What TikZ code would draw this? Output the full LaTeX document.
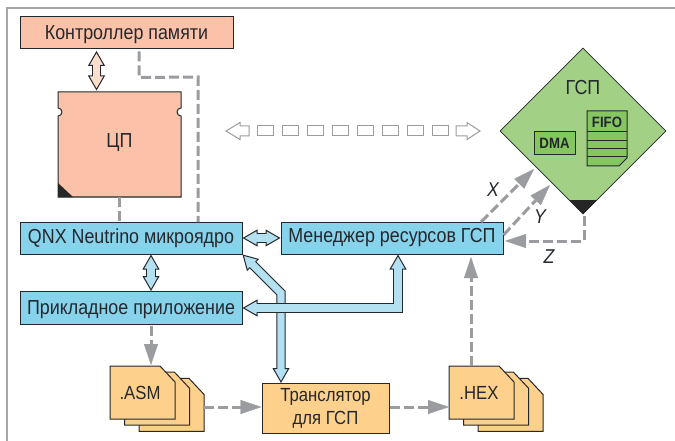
\documentclass[tikz,border=0pt]{standalone}
\usepackage{fontspec}
\setmainfont[FakeStretch=0.88]{Liberation Sans}
\usetikzlibrary{arrows.meta,calc,shapes.geometric}

\definecolor{linecolor}{RGB}{35,40,45}
\definecolor{greycolor}{RGB}{154,156,160}
\definecolor{cpucolor}{RGB}{251,194,169}
\definecolor{cpulight}{RGB}{253,222,205}
\definecolor{bluecolor}{RGB}{135,211,236}
\definecolor{fatcolor}{RGB}{179,225,242}
\definecolor{filecolor}{RGB}{253,208,140}
\definecolor{gpucolor}{RGB}{162,208,132}
\definecolor{innercolor}{RGB}{134,198,97}

\tikzset{
  box/.style={draw=linecolor,line width=1pt,inner sep=0pt,font=\fontsize{20.3}{23}\selectfont,text=linecolor,align=center},
  bluebox/.style={box,fill=bluecolor,minimum width=222,minimum height=32},
  inbox/.style={draw=linecolor,line width=1pt,fill=innercolor},
  filepage/.style={draw=linecolor,line width=1pt,fill=filecolor},
  greyline/.style={draw=greycolor,line width=3pt,dash pattern=on 10pt off 4pt},
  greyarrow/.style={greyline,-{Triangle[length=21pt,width=14pt,line width=0.4pt,fill=greycolor,color=greycolor]}},
  fatline/.style={draw=linecolor,line width=9.2pt,
    {Triangle[length=15pt,width=17pt,line width=1pt,fill=#1]}-{Triangle[length=15pt,width=17pt,line width=1pt,fill=#1]},
    postaction={draw=#1,line width=7.4pt,arrows=-,shorten >=13pt,shorten <=13pt}},
  hollow/.style={draw=greycolor,line width=1pt,fill=white},
  plainlabel/.style={font=\fontsize{20.3}{23}\selectfont,text=linecolor,inner sep=0pt},
  chiplabel/.style={font=\fontsize{15}{17}\bfseries\selectfont,text=linecolor,inner sep=0pt},
  axislabel/.style={font=\fontsize{20}{23}\selectfont\itshape,text=linecolor,inner sep=0pt}
}
\newcommand{\filestack}[2]{% left edge, name
  \foreach \o in {2,1,0} {
    \draw[filepage,shift={(#1+14.5*\o,366+6.2*\o)}]
      (0,0) -- (50,0) -- (65,16) -- (65,53) -- (0,53) -- cycle;
  }
  \coordinate (#2left) at (#1,407);
  \coordinate (#2right) at (#1+94,407);
}

\begin{document}
\begin{tikzpicture}[x=1pt,y=-1pt]
  \useasboundingbox (0,0) rectangle (675,441);

  % Frame
  \draw[gray!70,line width=1.4pt] (7,441) -- (7,8) -- (675,8);

  % Memory controller and CPU
  \node[box,fill=cpucolor,minimum width=213,minimum height=32,text depth=0pt] (mem) at (126.5,33) {Контроллер памяти};
  \draw[draw=linecolor,line width=1pt,fill=cpucolor]
    (58,92) -- (181,92) -- (181,108) arc (-90:-270:4) -- (181,197) -- (58,197) -- (58,116) arc (90:-90:4) -- cycle;
  \node[plainlabel] (cpu) at (119.5,143) {ЦП};
  \fill[black!85] (58,183) -- (73,197) -- (58,197) -- cycle;
  \coordinate (cpubottom) at (119.5,197);
  \coordinate (cputop) at (96.5,92);

  % Blue boxes
  \node[bluebox] (qnx) at (131,238) {QNX Neutrino микроядро};
  \node[bluebox,minimum height=33,text depth=0pt] (app) at (131,308) {Прикладное приложение};
  \node[bluebox] (mgr) at (392,238) {Менеджер ресурсов ГСП};

  % Files and translator
  \filestack{110}{asm}
  \node[plainlabel,font=\fontsize{19}{23}\selectfont] (asmlabel) at (140,393) {.ASM};
  \filestack{449}{hex}
  \node[plainlabel,font=\fontsize{19}{23}\selectfont] (hexlabel) at (479,393) {.HEX};
  \node[box,fill=filecolor,minimum width=127,minimum height=50,font=\fontsize{19}{23}\selectfont] (trans) at (325.5,408) {Транслятор\\для ГСП};

  % GPU
  \node[diamond,draw=linecolor,line width=0.6pt,fill=gpucolor,minimum width=166,minimum height=166,inner sep=0pt] (gpu) at (583,131) {};
  \fill[black!85] (583,214) -- (569,200) -- (597,200) -- cycle;
  \node[plainlabel] (gsp) at (583,88) {ГСП};
  \node[inbox,chiplabel,minimum width=41,minimum height=23] (dma) at (554.5,143.5) {DMA};
  \draw[inbox] (587,111) -- (627,111) -- (627,158) -- (619,166) -- (587,166) -- cycle;
  \foreach \y in {132,141,149,157} {
    \draw[draw=linecolor,line width=1pt] (587,\y) -- (627,\y);
  }
  \node[chiplabel] (fifo) at (607,122) {FIFO};

  % Grey connections
  \draw[greyline] ([xshift=12.5]mem.south) ++(0,2) -- ++(0,26) -- (198,77) -- (198,222);
  \draw[greyline] (cpubottom) -- (cpubottom |- qnx.north);
  \draw[greyarrow] (app.south -| 151,0) ++(0,1) -- (151,365);
  \draw[greyarrow] (asmright) -- (asmright -| trans.west);
  \draw[greyarrow] (hexleft -| trans.east) -- (hexleft);
  \draw[greyarrow] (471,366) -- (471,257);
  \draw[greyarrow] (481,222) -- (534,169);
  \draw[greyarrow] (mgr.east) ++(0,-3) -- (550,185);
  \draw[greyarrow] (gpu.south) ++(1,2) -- (584,241) -- (505,241);
  \node[axislabel] (xlabel) at (493,190) {X};
  \node[axislabel] (ylabel) at (540,217) {Y};
  \node[axislabel] (zlabel) at (549,257) {Z};

  % Fat arrows
  \draw[fatline=cpulight] ([yshift=-1.5]mem.south -| cputop) -- ([yshift=1.5]cputop);
  \draw[fatline=fatcolor] (qnx.east) -- (mgr.west);
  \draw[fatline=fatcolor] (qnx.south -| 151,0) -- (app.north -| 151,0);
  \draw[fatline=fatcolor] (qnx.south east) -- (281,293) -- (281,383);
  \draw[fatline=fatcolor] (app.east) -- (398,308) -- ([xshift=6]mgr.south);

  % Hollow dashed arrow
  \draw[hollow] (226,131) -- (240,122.5) -- (240,126) -- (249,126) -- (249,136) -- (240,136) -- (240,139.5) -- cycle;
  \foreach \x in {257,282,...,432} {
    \draw[hollow] (\x,126) rectangle (\x+16,136);
  }
  \draw[hollow] (480,131) -- (467,122.5) -- (467,126) -- (456,126) -- (456,136) -- (467,136) -- (467,139.5) -- cycle;
\end{tikzpicture}
\end{document}
